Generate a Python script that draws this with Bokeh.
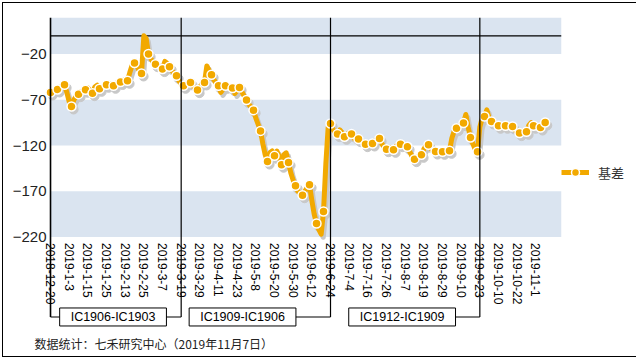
import pandas as pd
from bokeh.plotting import figure
from bokeh.models import (Range1d, FixedTicker, BoxAnnotation, Label, Title,
                          Legend, LegendItem, ColumnDataSource)
from bokeh.transform import dodge
from bokeh.embed import file_html
from bokeh.resources import INLINE

# ---- trading-day categories (SSE calendar) ----
holidays = ["2018-12-31", "2019-01-01", "2019-02-04", "2019-02-05", "2019-02-06",
            "2019-02-07", "2019-02-08", "2019-04-05", "2019-05-01", "2019-05-02",
            "2019-05-03", "2019-06-07", "2019-09-13", "2019-10-01", "2019-10-02",
            "2019-10-03", "2019-10-04", "2019-10-07"]
days = [d for d in pd.bdate_range("2018-12-20", "2019-11-07")
        if d.strftime("%Y-%m-%d") not in holidays]
dates = [f"{d.year}-{d.month}-{d.day}" for d in days]

# ---- basis values (daily) ----
basis = [
    -62, -60, -59, -58.7, -56, -55, -53.6, -62, -72, -77.3, -70, -66,
    -63.8, -61, -60, -59, -57, -60, -62.7, -56, -54, -58, -56, -55,
    -53.6, -52, -54, -54.7, -52, -51, -50.5, -49, -48, -49.2, -40, -32,
    -29.8, -33, -38, -41.2, 0, -3, -20, -25, -29, -31, -33, -35,
    -36.4, -28, -30, -33.9, -38, -41, -43.7, -49, -53, -54.7, -53, -52,
    -51, -55, -57, -59.4, -56, -52, -51, -33, -38, -42.6, -48, -52,
    -54.7, -62, -58, -54.7, -56, -57, -57.2, -63, -60, -56.5, -61, -66,
    -70.3, -75, -78, -81.3, -90, -97, -104, -118, -130, -137.5, -128, -126,
    -131.3, -126, -132, -141, -130, -128, -138.6, -150, -158, -164, -170, -172,
    -174.3, -170, -166, -163, -180, -195, -205.3, -212, -217, -192.2, -140, -100,
    -96, -102, -106, -107.5, -103, -106, -110.5, -108, -106, -107.5, -112, -113,
    -113, -115, -117, -118.5, -118, -117, -117.8, -115, -113, -112.3, -118, -122,
    -124, -122, -123, -124.7, -121, -119, -118.5, -120, -121, -121.4, -127, -132,
    -134.9, -133, -131, -130.2, -124, -120, -119.2, -123, -126, -126.6, -127, -127,
    -126.9, -127, -126, -125.8, -112, -104, -101, -99, -97, -95.5, -86, -100,
    -111.2, -118, -124, -126.9, -100, -90, -88.3, -81, -90, -93.7, -96, -97,
    -98.4, -98, -98, -98.4, -99, -99, -99.2, -103, -105, -106.4, -105, -104,
    -105, -98, -95, -98.4, -99, -100, -100.3, -97, -94.8,
]
series_name = "基差"

# contract rolls
contracts = ["IC1906-IC1903", "IC1909-IC1906", "IC1912-IC1909"]
roll_dates = ["2019-3-19", "2019-6-24", "2019-9-23"]

y_ticks = [-220, -170, -120, -70, -20]
label_step = 8
footer = "数据统计：七禾研究中心（2019年11月7日）"

n = min(len(dates), len(basis))
xs = list(range(n))
marker_idx = list(range(0, n, 3))
if marker_idx[-1] != n - 1:
    marker_idx.append(n - 1)

line_src = ColumnDataSource(dict(x=xs, y=basis[:n]))
mk_src = ColumnDataSource(dict(x=marker_idx, y=[basis[i] for i in marker_idx]))

ORANGE = "#F2A900"
SHADOW = "#c8c8c8"
BAND = "#dae4f0"
FONT = "Liberation Sans"
CJK = "Noto Sans CJK SC"

Y_TOP, Y_AXIS, BRACKET_Y, Y_BOTTOM = 20, -220, -307.5, -319
X_LEFT, X_RIGHT = -17.15, 219

p = figure(frame_width=551, frame_height=310, output_backend="svg",
           toolbar_location=None,
           x_range=Range1d(X_LEFT, X_RIGHT), y_range=Range1d(Y_BOTTOM, Y_TOP),
           min_border_left=7, min_border_right=71, min_border_top=14,
           min_border_bottom=29)
p.outline_line_color = None
p.xgrid.visible = False
p.ygrid.visible = False
p.background_fill_color = "white"
p.border_fill_color = "white"
p.styles = {"margin": "2px", "border": "1px solid black"}

# alternating bands (plot area starts at the first category)
for lo, hi in [(-220, -170), (-120, -70), (-20, 20)]:
    p.add_layout(BoxAnnotation(left=0, bottom=lo, top=hi, fill_color=BAND,
                               fill_alpha=1, line_color=None, level="underlay"))

# zero line
p.segment(x0=[0], y0=[0], x1=[X_RIGHT], y1=[0], line_color="black", line_width=1.2)

# shadow
p.line(x=dodge("x", 0.9), y=dodge("y", -3.3), source=line_src,
       line_color=SHADOW, line_width=5, line_join="round")
p.scatter(x=dodge("x", 0.9), y=dodge("y", -3.3), source=mk_src, size=9,
          fill_color=SHADOW, line_color=SHADOW)

ln = p.line("x", "y", source=line_src, line_color=ORANGE, line_width=5, line_join="round")
pts = p.scatter("x", "y", source=mk_src, size=9, fill_color=ORANGE,
                line_color="white", line_width=1.5)

# brackets: left axis line + roll-date lines down to the contract boxes
box_centers = [26.8, 82.3, 150.7]
roll_idx = [dates.index(d) for d in roll_dates]
p.segment(x0=[0], y0=[Y_TOP], x1=[0], y1=[BRACKET_Y], line_color="black", line_width=1.6)
p.segment(x0=[0], y0=[BRACKET_Y], x1=[box_centers[0]], y1=[BRACKET_Y],
          line_color="black", line_width=1.2)
p.segment(x0=roll_idx, y0=[Y_TOP] * 3, x1=roll_idx, y1=[BRACKET_Y] * 3,
          line_color="black", line_width=1.2)
p.segment(x0=box_centers, y0=[BRACKET_Y] * 3, x1=roll_idx, y1=[BRACKET_Y] * 3,
          line_color="black", line_width=1.2)
for name, bc in zip(contracts, box_centers):
    p.add_layout(Label(x=bc, y=BRACKET_Y, text=name, text_align="center",
                       text_baseline="middle", text_font=FONT, text_font_size="12.5px",
                       text_color="black", background_fill_color="white",
                       border_line_color="black", border_line_width=1,
                       padding=dict(left=11, right=11, top=2, bottom=2)))

# axes
xa = p.xaxis[0]
xa.fixed_location = Y_AXIS
xa.ticker = FixedTicker(ticks=list(range(0, n, label_step)))
xa.major_label_overrides = {i: dates[i] for i in range(0, n, label_step)}
xa.major_label_orientation = "vertical"
xa.axis_line_color = None
xa.major_tick_line_color = None
xa.minor_tick_line_color = None
xa.major_label_text_font = FONT
xa.major_label_text_font_size = "12px"
xa.major_label_text_color = "black"
xa.major_label_standoff = 0

ya = p.yaxis[0]
ya.fixed_location = 0
ya.ticker = FixedTicker(ticks=y_ticks)
ya.axis_line_color = None
ya.major_tick_line_color = None
ya.minor_tick_line_color = None
ya.major_label_text_font = FONT
ya.major_label_text_font_size = "15px"
ya.major_label_text_color = "#222"
ya.major_label_standoff = -2

legend = Legend(items=[LegendItem(label=series_name, renderers=[ln, pts])],
                location="center_left", padding=4, margin=0, spacing=0,
                glyph_width=28, glyph_height=20, label_standoff=9,
                label_text_font=CJK, label_text_font_size="13px",
                label_text_color="#333", border_line_color=None,
                background_fill_alpha=0)
p.add_layout(legend, "right")

p.add_layout(Title(text=footer, align="left", offset=24, standoff=10,
                   text_font=CJK, text_font_size="12px", text_font_style="normal",
                   text_color="#222"), "below")

open("out.html", "w").write(file_html(p, INLINE))
